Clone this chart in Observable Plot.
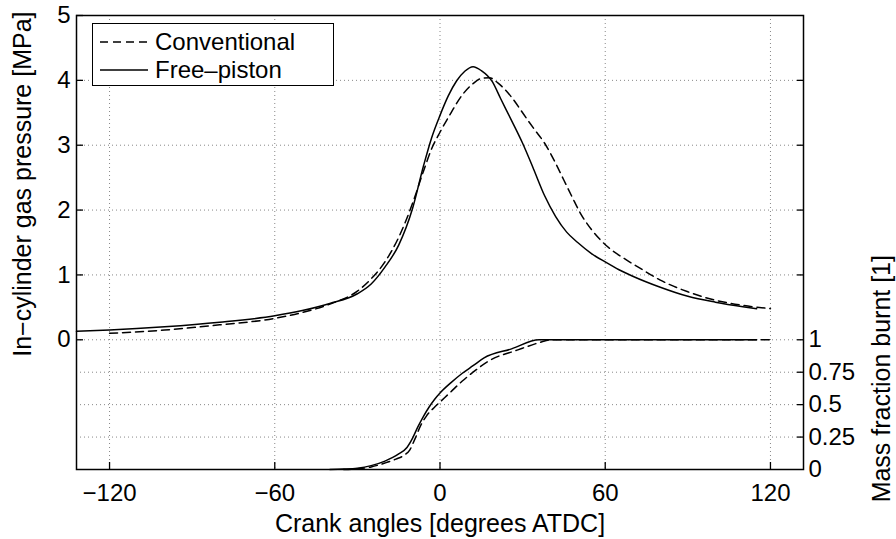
<!DOCTYPE html>
<html>
<head>
<meta charset="utf-8">
<script src="https://cdn.jsdelivr.net/npm/d3@7"></script>
<script src="https://cdn.jsdelivr.net/npm/@observablehq/plot@0.6"></script>
<style>
  html, body { margin: 0; padding: 0; background: #fff; }
  #wrap { position: relative; width: 896px; height: 539px; font-family: "Liberation Sans", Arial, Helvetica, sans-serif; }
  #legend { position: absolute; left: 92px; top: 23px; width: 240px; height: 61px; border: 1.5px solid #000; background: #fff; font-size: 24px; }
  #legend .row { position: absolute; left: 0; height: 28px; display: flex; align-items: center; }
  #legend svg { margin-left: 7px; margin-right: 7px; }
</style>
</head>
<body>
<div id="wrap"></div>
<script>
// ---- data ----
const fpAngle    = [-132, -120, -100, -80, -60, -50, -40, -30, -25, -20, -15, -10, -6, -3, 0, 3, 6, 9, 12, 15, 19, 22, 26, 30, 34, 38, 42, 46, 50, 55, 60, 65, 70, 80, 90, 100, 110, 115];
const fpPressure = [0.13, 0.15, 0.2, 0.27, 0.37, 0.45, 0.56, 0.71, 0.86, 1.12, 1.46, 2.02, 2.68, 3.12, 3.46, 3.76, 3.99, 4.14, 4.21, 4.15, 3.98, 3.72, 3.38, 3.03, 2.63, 2.22, 1.9, 1.66, 1.5, 1.33, 1.2, 1.08, 0.98, 0.81, 0.67, 0.58, 0.51, 0.48];

const convAngle    = [-120, -100, -80, -60, -50, -40, -30, -25, -20, -15, -10, -6, -3, 0, 4, 8, 12, 15, 18, 21, 26, 30, 34, 38, 42, 45, 48, 51, 55, 61, 67, 72, 80, 90, 100, 110, 120];
const convPressure = [0.1, 0.15, 0.23, 0.33, 0.42, 0.55, 0.75, 0.94, 1.2, 1.58, 2.1, 2.6, 2.95, 3.2, 3.5, 3.77, 3.95, 4.03, 4.04, 3.96, 3.74, 3.5, 3.26, 3.03, 2.72, 2.46, 2.2, 1.95, 1.7, 1.43, 1.25, 1.12, 0.92, 0.74, 0.61, 0.53, 0.48];

const fpMfbAngle = [-40, -35, -30, -25, -20, -15, -12, -10, -8, -6, -4, -2, 0, 4, 8, 12, 16, 26, 36, 115];
const fpMfb      = [0, 0.003, 0.01, 0.03, 0.065, 0.12, 0.17, 0.24, 0.33, 0.41, 0.48, 0.54, 0.59, 0.67, 0.74, 0.8, 0.86, 0.93, 1.0, 1.0];

const convMfbAngle = [-35, -30, -25, -20, -16, -13, -11, -9, -7, -5, -2, 0, 4, 8, 12, 18, 28, 38, 40, 120];
const convMfb      = [0, 0.005, 0.02, 0.05, 0.08, 0.11, 0.15, 0.24, 0.34, 0.41, 0.48, 0.52, 0.6, 0.68, 0.75, 0.84, 0.92, 0.99, 1.0, 1.0];

const xTicks = [-120, -60, 0, 60, 120];
const xTickLabels = ["\u2212120", "\u221260", "0", "60", "120"];
const pTicks = [0, 1, 2, 3, 4, 5];
const mfbTicks = [0, 0.25, 0.5, 0.75, 1];
const mfbTickLabels = ["0", "0.25", "0.5", "0.75", "1"];
const seriesNames = ["Conventional", "Free\u2013piston"];

// mass fraction 0..1 is drawn in the band below pressure 0 (pressure units -2..0)
const mfbToY = m => -2 + 2 * m;

const fp = fpAngle.map((a, i) => ({a, p: fpPressure[i]}));
const conv = convAngle.map((a, i) => ({a, p: convPressure[i]}));
const fpM = fpMfbAngle.map((a, i) => ({a, m: fpMfb[i]}));
const convM = convMfbAngle.map((a, i) => ({a, m: convMfb[i]}));

const gridStyle = {stroke: "#888", strokeOpacity: 1, strokeWidth: 1, strokeDasharray: "1,3"};
const dash = "8,5";

const chart = Plot.plot({
  width: 896,
  height: 539,
  marginLeft: 76,
  marginRight: 93,
  marginTop: 15,
  marginBottom: 70,
  style: {fontFamily: '"Liberation Sans", Arial, Helvetica, sans-serif', fontSize: "24px", color: "#000", background: "#fff"},
  x: {domain: [-132, 132]},
  y: {domain: [-2, 5]},
  marks: [
    Plot.gridX({ticks: xTicks, ...gridStyle}),
    Plot.gridY({ticks: [1, 2, 3, 4, 0, ...mfbTicks.slice(1, 4).map(mfbToY)], ...gridStyle}),
    // ticks (inward)
    Plot.axisX({ticks: xTicks, anchor: "bottom", tickSize: 7, dy: -7, tickFormat: () => "", label: null, strokeWidth: 1.3}),
    Plot.axisY({ticks: pTicks, anchor: "left", tickSize: 7, dx: 7, tickFormat: () => "", label: null, strokeWidth: 1.3}),
    Plot.axisY({ticks: [1, 2, 3, 4, ...mfbTicks.slice(1).map(mfbToY)], anchor: "right", tickSize: 7, dx: -7, tickFormat: () => "", label: null, strokeWidth: 1.3}),
    // tick labels
    Plot.axisX({ticks: xTicks, anchor: "bottom", tickSize: 0, tickPadding: 14, tickFormat: d => xTickLabels[xTicks.indexOf(d)], label: null}),
    Plot.axisY({ticks: pTicks, anchor: "left", tickSize: 0, tickPadding: 6, tickFormat: d => String(d), label: null}),
    Plot.axisY({ticks: mfbTicks.map(mfbToY), anchor: "right", tickSize: 0, tickPadding: 5,
      tickFormat: v => mfbTickLabels[mfbTicks.findIndex(m => Math.abs(mfbToY(m) - v) < 1e-9)], label: null}),
    // axis titles
    Plot.text(["Crank angles [degrees ATDC]"], {text: d => d, frameAnchor: "bottom", lineAnchor: "middle", dy: 54, fontSize: 25}),
    Plot.text(["In\u2212cylinder gas pressure [MPa]"], {text: d => d, y: () => 2.4, frameAnchor: "left", lineAnchor: "middle", textAnchor: "middle", rotate: -90, dx: -54, fontSize: 25}),
    Plot.text(["Mass fraction burnt [1]"], {text: d => d, y: () => -0.6, frameAnchor: "right", lineAnchor: "middle", textAnchor: "middle", rotate: -90, dx: 78, fontSize: 25}),
    // curves
    Plot.line(conv, {x: "a", y: "p", stroke: "#000", strokeWidth: 1.5, strokeDasharray: dash, curve: "monotone-x"}),
    Plot.line(fp, {x: "a", y: "p", stroke: "#000", strokeWidth: 1.5, curve: "monotone-x"}),
    Plot.line(convM, {x: "a", y: d => mfbToY(d.m), stroke: "#000", strokeWidth: 1.5, strokeDasharray: dash, curve: "monotone-x"}),
    Plot.line(fpM, {x: "a", y: d => mfbToY(d.m), stroke: "#000", strokeWidth: 1.5, curve: "monotone-x"}),
    Plot.frame({stroke: "#000", strokeWidth: 1.5})
  ]
});

const wrap = document.getElementById("wrap");
wrap.appendChild(chart);

// legend
const legend = document.createElement("div");
legend.id = "legend";
[["8,5", 4], ["none", 32]].forEach(([d, top], i) => {
  const row = document.createElement("div");
  row.className = "row";
  row.style.top = top + "px";
  row.innerHTML = `<svg width="48" height="10"><line x1="0" y1="5" x2="48" y2="5" stroke="#000" stroke-width="1.5" ${d !== "none" ? `stroke-dasharray="${d}"` : ""}/></svg><span>${seriesNames[i]}</span>`;
  legend.appendChild(row);
});
wrap.appendChild(legend);
</script>
</body>
</html>
